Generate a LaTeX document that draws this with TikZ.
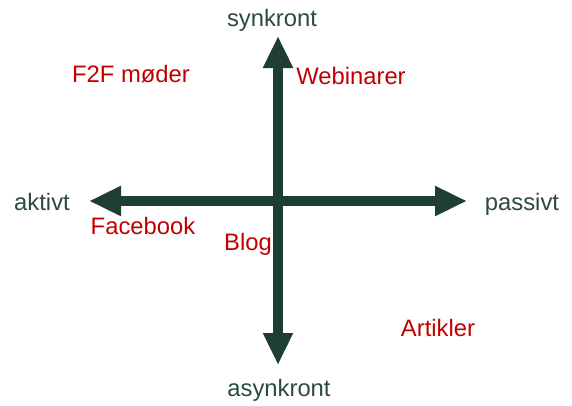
\documentclass[tikz,border=0pt]{standalone}
\usepackage{fontspec}
\setmainfont{Liberation Sans}
\usetikzlibrary{arrows.meta}
\definecolor{axisgreen}{HTML}{1E3D33}
\definecolor{axistext}{HTML}{2B4A40}
\definecolor{itemred}{HTML}{C00000}
\tikzset{
  axis/.style={draw=axisgreen, line width=10pt, {Triangle[length=32pt,width=28pt]}-{Triangle[length=32pt,width=28pt]}},
  axlabel/.style={text=axistext, font=\fontsize{23.8}{28}\selectfont, anchor=base, inner sep=0pt},
  item/.style={text=itemred, font=\fontsize{23.8}{28}\selectfont, anchor=base, inner sep=0pt}
}
\begin{document}
\begin{tikzpicture}[x=1pt,y=-1pt]
\useasboundingbox (0,0) rectangle (572,405);
\coordinate (top) at (278,36);
\coordinate (bottom) at (278,365);
\coordinate (left) at (89,201);
\coordinate (right) at (467,201);
\draw[axis] (left) -- (right);
\draw[axis] (bottom) -- (top);
\node[axlabel] (synk) at (272,26) {synkront};
\node[axlabel] (asynk) at (279,396) {asynkront};
\node[axlabel] (akt) at (42,210) {aktivt};
\node[axlabel] (pas) at (522,210) {passivt};
\node[item] (f2f) at (131,82) {F2F møder};
\node[item] (web) at (351,84) {Webinarer};
\node[item] (fb) at (143,234) {Facebook};
\node[item] (blog) at (248,250) {Blog};
\node[item] (art) at (438,336) {Artikler};
\end{tikzpicture}
\end{document}
